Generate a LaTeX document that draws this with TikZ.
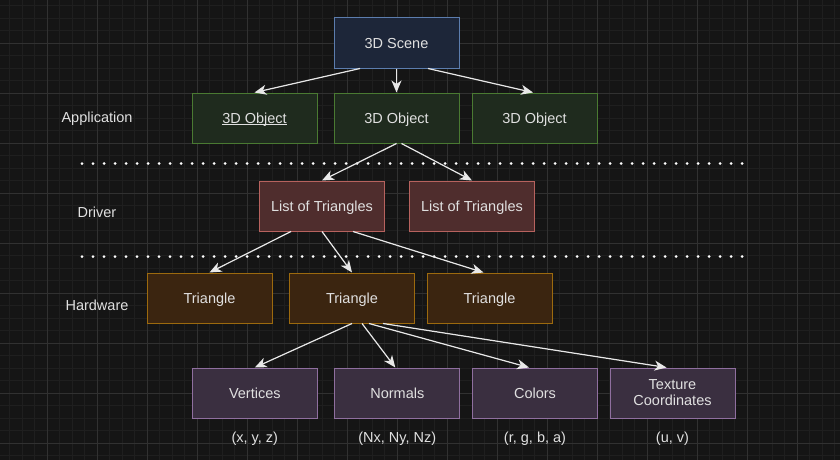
\documentclass[tikz,border=0pt]{standalone}
\usepackage{fontspec}
\setmainfont{Liberation Sans}
\usepackage{tikz}
\usetikzlibrary{arrows.meta,calc}

\definecolor{bgcol}{HTML}{151515}
\definecolor{gridminor}{HTML}{1F1F1F}
\definecolor{gridmajor}{HTML}{313131}
\definecolor{txtcol}{HTML}{E0E0E0}
\definecolor{linecol}{HTML}{E8E8E8}
\definecolor{scenefill}{HTML}{1D2639}
\definecolor{scenedraw}{HTML}{5C7DAE}
\definecolor{objfill}{HTML}{1F2B1E}
\definecolor{objdraw}{HTML}{4A7A32}
\definecolor{listfill}{HTML}{4F2D2D}
\definecolor{listdraw}{HTML}{B7625E}
\definecolor{trifill}{HTML}{3B2510}
\definecolor{tridraw}{HTML}{9C6A0E}
\definecolor{attrfill}{HTML}{3A2F40}
\definecolor{attrdraw}{HTML}{8F6F9F}

\newcommand{\ulbl}[1]{\setbox0\hbox{#1}\rlap{\rule[-1.8pt]{\wd0}{0.9pt}}\box0}

\begin{document}
\begin{tikzpicture}[
   x=1pt,y=-1pt,
   font=\fontsize{14.5}{16}\selectfont,
   every node/.style={text=txtcol},
   box/.style={draw,line width=1pt,minimum width=125pt,minimum height=50pt,inner sep=0pt,align=center,text depth=0pt},
   scenebox/.style={box,fill=scenefill,draw=scenedraw},
   objbox/.style={box,fill=objfill,draw=objdraw},
   listbox/.style={box,fill=listfill,draw=listdraw},
   tribox/.style={box,fill=trifill,draw=tridraw},
   attrbox/.style={box,fill=attrfill,draw=attrdraw},
   to/.style={-{Stealth[length=12pt,width=10pt,inset=3.5pt]},line width=1.2pt,draw=linecol,fill=linecol},
   sep/.style={draw=white,line width=3pt,line cap=round,dash pattern=on 0pt off 11pt}]
\fill[bgcol] (0,0) rectangle (840,460);
\useasboundingbox (0,0) rectangle (840,460);
\foreach \i in {0,...,66} \draw[gridminor,line width=1pt] ({9.8+12.5*\i},0) -- ++(0,460);
\foreach \i in {0,...,36} \draw[gridminor,line width=1pt] (0,{5.8+12.5*\i}) -- ++(840,0);
\foreach \i in {0,...,15} \draw[gridmajor,line width=1pt] ({47.3+50*\i},0) -- ++(0,460);
\foreach \i in {0,...,8} \draw[gridmajor,line width=1pt] (0,{43.3+50*\i}) -- ++(840,0);

\node[scenebox] (scene) at (396.5,43) {3D Scene};
\node[objbox] (obj1) at (254.5,118) {\ulbl{3D Object}};
\node[objbox] (obj2) at (396.5,118) {3D Object};
\node[objbox] (obj3) at (534.5,118) {3D Object};
\node[listbox] (list1) at (322,206) {List of Triangles};
\node[listbox] (list2) at (472,206) {List of Triangles};
\node[tribox] (tri1) at (209.5,298) {Triangle};
\node[tribox] (tri2) at (352,298) {Triangle};
\node[tribox] (tri3) at (489.5,298) {Triangle};
\node[attrbox] (vert) at (254.8,393) {Vertices};
\node[attrbox] (norm) at (397.3,393) {Normals};
\node[attrbox] (col) at (535,393) {Colors};
\node[attrbox] (tex) at (672.5,393) {Texture\\Coordinates};

\node (vertval) at (254.8,439) {(x, y, z)};
\node (normval) at (397.3,439) {(Nx, Ny, Nz)};
\node (colval) at (535,439) {(r, g, b, a)};
\node (texval) at (672.5,439) {(u, v)};

\node (app) at (97,119) {Application};
\node (drv) at (97,212) {Driver};
\node (hw) at (97,305) {Hardware};

\coordinate (sepA1) at (82,163.5);
\coordinate (sepA2) at (746,163.5);
\coordinate (sepB1) at (82,256.5);
\coordinate (sepB2) at (746,256.5);
\draw[sep] (sepA1) -- (sepA2);
\draw[sep] (sepB1) -- (sepB2);

\draw[to] ([xshift=-36.5pt]scene.south) -- (obj1.north);
\draw[to] (scene.south) -- (obj2.north);
\draw[to] ([xshift=31.5pt]scene.south) -- ([xshift=-1.5pt]obj3.north);
\draw[to] (obj2.south) -- (list1.north);
\draw[to] ([xshift=5pt]obj2.south) -- (list2.north);
\draw[to] ([xshift=-31pt]list1.south) -- (tri1.north);
\draw[to] (list1.south) -- (tri2.north);
\draw[to] ([xshift=31pt]list1.south) -- ([xshift=-6pt]tri3.north);
\draw[to] (tri2.south) -- (vert.north);
\draw[to] ([xshift=10pt]tri2.south) -- ([xshift=-2pt]norm.north);
\draw[to] ([xshift=17pt]tri2.south) -- ([xshift=-6pt]col.north);
\draw[to] ([xshift=31pt]tri2.south) -- ([xshift=-6pt]tex.north);
\end{tikzpicture}
\end{document}
